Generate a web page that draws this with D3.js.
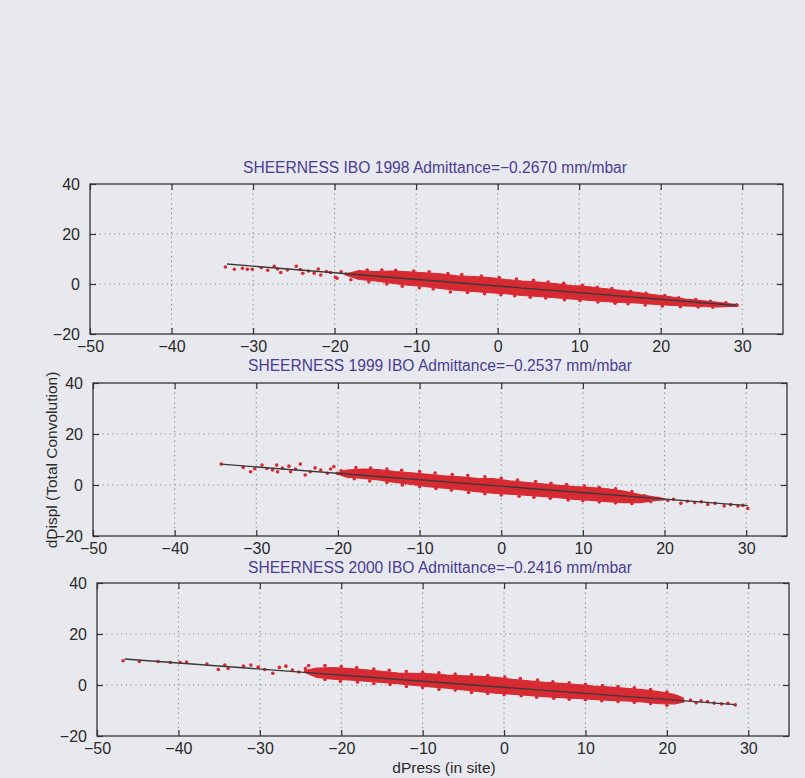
<!DOCTYPE html>
<html>
<head>
<meta charset="utf-8">
<script src="https://cdn.jsdelivr.net/npm/d3@7"></script>
<style>
  html, body { margin: 0; padding: 0; background: #e8e9ee; }
  svg { display: block; }
  text { font-family: "Liberation Sans", Arial, sans-serif; }
</style>
</head>
<body>
<svg id="chart" width="805" height="778"></svg>
<script>
// ---------------- DATA ----------------
const xTicks = [-50, -40, -30, -20, -10, 0, 10, 20, 30];
const yTicks = [-20, 0, 20, 40];
const xDomain = [-50, 35];
const yDomain = [-20, 40];

const titles = [
  "SHEERNESS IBO 1998 Admittance=\u22120.2670 mm/mbar",
  "SHEERNESS 1999 IBO  Admittance=\u22120.2537 mm/mbar",
  "SHEERNESS 2000 IBO  Admittance=\u22120.2416 mm/mbar"
];
const yLabel = "dDispl (Total Convolution)";
const xLabel = "dPress (in site)";

// fitted regression lines (endpoints)
const fit1998 = [[-33.2, 8.0], [29.3, -8.6]];
const fit1999 = [[-34.3, 8.2], [30.2, -8.1]];
const fit2000 = [[-46.6, 10.2], [28.4, -7.7]];

// dense scatter band envelopes: x, upper y, lower y
const band1998X  = [-18.5, -17, -15, -13, -11, -9, -7, -5, -3, -1, 1, 3, 5, 7, 9, 11, 13, 15, 17, 19, 21, 23, 25, 27, 29.5];
const band1998Hi = [4.2, 5.3, 5.0, 5.2, 4.9, 4.5, 4.1, 3.3, 3.0, 2.6, 1.8, 1.2, 0.8, 0.2, -0.6, -1.0, -1.8, -2.5, -3.3, -4.2, -5.0, -6.0, -6.6, -7.3, -8.3];
const band1998Lo = [3.4, 1.8, 1.2, 0.3, -0.5, -1.0, -1.8, -2.6, -3.0, -3.5, -3.9, -4.6, -5.0, -5.5, -6.0, -6.5, -7.0, -7.4, -7.6, -8.1, -8.5, -8.8, -9.0, -9.2, -8.9];

const band1999X  = [-20, -19, -17, -15, -13, -11, -9, -7, -5, -3, -1, 1, 3, 5, 7, 9, 11, 13, 15, 17, 19, 20];
const band1999Hi = [4.9, 5.8, 6.2, 6.0, 5.3, 4.8, 4.2, 3.6, 3.2, 2.6, 2.5, 1.6, 1.0, 0.5, -0.1, -0.6, -1.0, -1.5, -2.4, -3.8, -4.8, -5.3];
const band1999Lo = [4.2, 3.2, 2.6, 2.0, 1.0, 0.2, -0.6, -1.2, -1.8, -2.6, -3.2, -3.6, -4.0, -4.5, -5.0, -5.6, -6.0, -6.5, -6.9, -6.9, -6.0, -5.8];

const band2000X  = [-24.5, -23, -21, -19, -17, -15, -13, -11, -9, -7, -5, -3, -1, 1, 3, 5, 7, 9, 11, 13, 15, 17, 19, 21, 22];
const band2000Hi = [5.7, 6.6, 6.8, 6.4, 5.9, 5.4, 4.7, 4.6, 4.4, 3.9, 3.6, 3.4, 3.0, 2.2, 1.6, 1.0, 0.6, 0.2, -0.4, -0.8, -1.3, -1.8, -2.6, -3.8, -5.0];
const band2000Lo = [5.0, 3.0, 2.3, 2.0, 1.5, 1.0, 0.5, -0.2, -0.7, -1.2, -1.9, -2.6, -3.2, -3.6, -4.1, -4.6, -5.0, -5.3, -5.6, -6.0, -6.2, -6.6, -7.3, -7.4, -6.6];

// individual (sparse / edge) points: [dPress, dDispl]
const points1998 = [
  [-33.4,6.8],[-32.3,5.9],[-31.3,6.3],[-30.7,5.9],[-30.1,5.9],[-29.0,6.5],[-28.2,5.5],[-27.4,7.1],[-27.0,6.0],
  [-26.6,4.6],[-25.8,5.6],[-24.7,7.1],[-24.2,5.8],[-23.9,4.3],[-23.2,5.2],[-22.5,4.3],[-22.0,6.0],[-21.7,3.6],
  [-21.0,5.0],[-20.5,4.6],[-19.9,2.7],[-19.7,2.3],[-19.2,4.9],[-18.6,4.0],[-18.0,1.7],[-17.6,3.5],[-17.0,5.0],
  [-16.0,5.6],[-14.2,5.6],[-12.5,5.5],[-10.3,5.2],[-8.4,4.9],[-6.1,4.2],[-4.4,3.8],[-2.0,3.2],[0.2,2.6],[2.3,2.0],
  [4.4,1.5],[6.2,0.8],[8.1,0.3],[10.4,-0.5],[12.2,-1.3],[14.0,-1.8],[16.3,-2.9],[18.2,-3.7],[20.5,-4.6],[22.2,-5.5],
  [24.3,-6.2],[26.1,-6.9],[28.0,-7.5],[29.3,-8.3],
  [-15.8,0.9],[-13.6,0.0],[-11.7,-0.9],[-9.6,-1.5],[-7.9,-2.0],[-5.8,-3.2],[-3.7,-3.4],[-1.6,-3.9],[0.4,-4.3],
  [2.1,-4.7],[4.0,-5.3],[5.9,-5.6],[8.2,-6.3],[10.1,-6.6],[12.3,-7.2],[14.4,-7.7],[16.0,-7.9],[18.1,-8.4],
  [20.2,-8.8],[22.4,-9.1],[24.6,-9.2],[26.4,-9.3]
];
const points1999 = [
  [-34.3,8.2],[-31.6,6.9],[-30.7,5.2],[-30.2,6.4],[-29.3,7.8],[-28.7,6.5],[-28.0,5.9],[-27.5,7.8],[-27.4,5.2],
  [-26.8,6.6],[-26.0,7.4],[-25.8,5.2],[-25.2,6.3],[-24.6,8.2],[-24.0,3.9],[-23.4,5.2],[-22.8,6.7],[-22.1,5.9],
  [-21.3,4.6],[-20.9,6.3],[-20.5,7.2],[-20.1,4.6],[-19.6,5.6],[-19.3,5.2],[-18.7,3.3],
  [17.5,-4.2],[18.3,-6.5],[19.2,-5.2],[20.4,-6.1],[21.1,-5.6],[22.0,-7.2],[22.8,-6.4],[23.7,-6.9],[24.5,-6.6],
  [25.3,-7.6],[26.2,-7.2],[27.3,-8.2],[28.1,-7.7],[29.0,-8.2],[29.6,-8.0],[30.2,-9.2],
  [-17.8,6.8],[-16.0,6.6],[-14.0,6.3],[-12.2,5.8],[-10.0,5.3],[-8.1,4.7],[-6.0,4.1],[-4.1,3.7],[-2.0,3.2],
  [0.0,2.6],[2.0,1.9],[4.2,1.4],[6.1,0.7],[8.0,0.2],[10.2,-0.4],[12.0,-0.9],[14.0,-1.5],[16.0,-2.6],
  [-18.0,2.5],[-16.1,1.6],[-14.0,1.0],[-12.1,0.0],[-10.0,-0.6],[-8.0,-1.4],[-6.1,-2.0],[-4.0,-2.9],[-2.0,-3.4],
  [0.0,-3.9],[2.2,-4.4],[4.0,-4.8],[6.0,-5.2],[8.2,-5.9],[10.0,-6.2],[12.0,-6.6],[14.0,-7.0],[16.0,-7.3]
];
const points2000 = [
  [-46.8,9.5],[-44.8,9.2],[-42.5,9.2],[-41.0,8.8],[-39.8,8.8],[-39.0,9.0],[-36.5,8.2],[-35.1,6.1],[-34.3,7.8],
  [-33.9,6.5],[-32.0,7.4],[-31.1,7.8],[-30.2,7.0],[-29.4,6.1],[-28.4,4.6],[-27.6,6.9],[-26.8,7.4],[-26.0,5.9],
  [-25.2,5.1],[-24.4,6.5],[-24.0,7.6],
  [20.6,-4.2],[21.3,-4.6],[22.0,-6.3],[22.9,-5.9],[23.6,-7.0],[24.2,-6.2],[25.0,-6.5],[25.8,-7.1],[26.7,-7.4],
  [27.5,-7.2],[28.4,-7.8],
  [-22.0,7.6],[-20.0,7.2],[-18.1,6.8],[-16.0,6.3],[-14.1,5.8],[-12.0,5.3],[-10.0,5.0],[-8.0,4.8],[-6.0,4.3],
  [-4.0,4.0],[-2.0,3.7],[0.1,3.1],[2.0,2.5],[4.1,1.9],[6.0,1.3],[8.0,0.9],[10.0,0.3],[12.1,-0.2],[14.0,-0.6],
  [16.0,-1.1],[18.0,-1.8],[20.0,-2.8],
  [-22.0,2.2],[-20.1,1.5],[-18.0,1.2],[-16.0,0.6],[-14.0,0.2],[-12.0,-0.6],[-10.0,-1.0],[-8.0,-1.7],[-6.0,-2.0],
  [-4.0,-2.9],[-2.0,-3.3],[0.0,-3.8],[2.1,-4.2],[4.0,-4.8],[6.1,-5.2],[8.0,-5.6],[10.0,-5.8],[12.0,-6.2],
  [14.0,-6.5],[16.0,-6.8],[18.0,-7.3],[20.0,-7.9]
];

// ---------------- LAYOUT ----------------
const panels = [
  { title: titles[0], fit: fit1998, bx: band1998X, bhi: band1998Hi, blo: band1998Lo, pts: points1998,
    left: 90, right: 783, top: 184, bottom: 334, titleX: 435, titleY: 173 },
  { title: titles[1], fit: fit1999, bx: band1999X, bhi: band1999Hi, blo: band1999Lo, pts: points1999,
    left: 93, right: 787, top: 383, bottom: 536, titleX: 440, titleY: 371 },
  { title: titles[2], fit: fit2000, bx: band2000X, bhi: band2000Hi, blo: band2000Lo, pts: points2000,
    left: 97, right: 789, top: 583, bottom: 736, titleX: 440, titleY: 573 }
];

const svg = d3.select("#chart");
const defs = svg.append("defs");
defs.append("filter").attr("id", "soft").attr("x", "-5%").attr("y", "-20%").attr("width", "110%").attr("height", "140%")
  .append("feGaussianBlur").attr("stdDeviation", 0.55);

svg.append("rect").attr("width", 805).attr("height", 778).attr("fill", "#e8e9ee");

const RED = "#d72a33";
const AXIS = "#333333";
const fmt = d => (d < 0 ? "\u2212" + Math.abs(d) : String(d));

panels.forEach(p => {
  const x = d3.scaleLinear().domain(xDomain).range([p.left, p.right]);
  const y = d3.scaleLinear().domain(yDomain).range([p.bottom, p.top]);
  const g = svg.append("g");

  // grid (dotted)
  const grid = g.append("g").attr("stroke", "#8c8c8c").attr("stroke-width", 1.1)
    .attr("stroke-dasharray", "1.2,3.6");
  xTicks.filter(t => t > xDomain[0] && t < xDomain[1]).forEach(t => {
    grid.append("line").attr("x1", x(t)).attr("x2", x(t)).attr("y1", p.top).attr("y2", p.bottom);
  });
  yTicks.filter(t => t > yDomain[0] && t < yDomain[1]).forEach(t => {
    grid.append("line").attr("x1", p.left).attr("x2", p.right).attr("y1", y(t)).attr("y2", y(t));
  });

  const marks = g.append("g").attr("filter", "url(#soft)");
  // dense band
  const band = p.bx.map((v, i) => ({ x: v, hi: p.bhi[i], lo: p.blo[i] }));
  const area = d3.area().x(d => x(d.x)).y0(d => y(d.lo)).y1(d => y(d.hi)).curve(d3.curveLinear);
  marks.append("path").datum(band).attr("d", area)
    .attr("fill", RED).attr("stroke", RED).attr("stroke-width", 1.2).attr("stroke-linejoin", "round");

  // individual points
  marks.append("g").selectAll("circle").data(p.pts).join("circle")
    .attr("cx", d => x(d[0])).attr("cy", d => y(d[1])).attr("r", 1.8).attr("fill", RED);

  // fitted line
  const line = d3.line().x(d => x(d[0])).y(d => y(d[1]));
  g.append("path").datum(p.fit).attr("d", line)
    .attr("fill", "none").attr("stroke", "#3a3a3a").attr("stroke-width", 1.4);

  // frame
  g.append("rect").attr("x", p.left).attr("y", p.top)
    .attr("width", p.right - p.left).attr("height", p.bottom - p.top)
    .attr("fill", "none").attr("stroke", AXIS).attr("stroke-width", 1.3);

  // axes via d3 (ticks inward)
  const xAxis = d3.axisBottom(x).tickValues(xTicks).tickSize(-6).tickPadding(10).tickFormat(fmt);
  const xa = g.append("g").attr("transform", `translate(0,${p.bottom})`).call(xAxis);
  const xTop = d3.axisTop(x).tickValues(xTicks).tickSize(-6).tickFormat("");
  const xt = g.append("g").attr("transform", `translate(0,${p.top})`).call(xTop);
  const yAxis = d3.axisLeft(y).tickValues(yTicks).tickSize(-6).tickPadding(10).tickFormat(fmt);
  const ya = g.append("g").attr("transform", `translate(${p.left},0)`).call(yAxis);
  const yRight = d3.axisRight(y).tickValues(yTicks).tickSize(-6).tickFormat("");
  const yr = g.append("g").attr("transform", `translate(${p.right},0)`).call(yRight);

  [xa, xt, ya, yr].forEach(a => {
    a.select(".domain").remove();
    a.selectAll(".tick line").attr("stroke", AXIS).attr("stroke-width", 1.2);
    a.selectAll(".tick text").attr("fill", "#2a2a2a").style("font-size", "16px")
      .style("font-family", "'Liberation Sans', Arial, sans-serif");
  });
  xa.selectAll(".tick text").attr("dy", "0.5em");
  ya.selectAll(".tick text").attr("dy", "0.35em");

  // title
  g.append("text").attr("x", p.titleX).attr("y", p.titleY).attr("text-anchor", "middle")
    .attr("fill", "#4b3c93").style("font-size", "15.6px").text(p.title);
});

// axis labels
svg.append("text").attr("transform", "translate(57,460) rotate(-90)").attr("text-anchor", "middle")
  .attr("fill", "#2a2a2a").style("font-size", "15.5px").text(yLabel);
svg.append("text").attr("x", 444).attr("y", 773).attr("text-anchor", "middle")
  .attr("fill", "#2a2a2a").style("font-size", "15.5px").text(xLabel);
</script>
</body>
</html>
